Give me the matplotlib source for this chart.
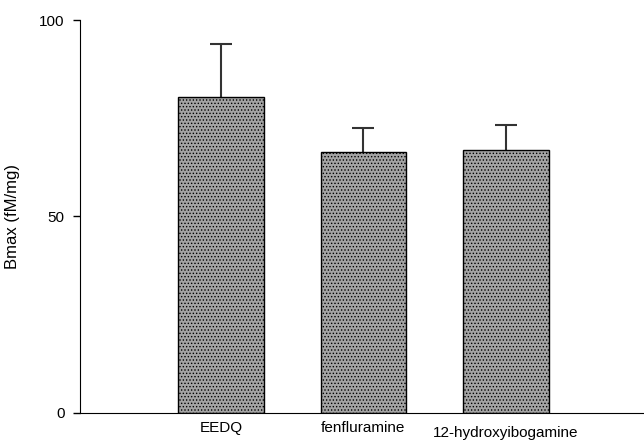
import matplotlib.pyplot as plt
import matplotlib.transforms as mtransforms
import numpy as np

plt.rcParams['font.family'] = ['Liberation Sans', 'DejaVu Sans']
plt.rcParams['hatch.color'] = '#8a8a8a'
plt.rcParams['hatch.linewidth'] = 0.6

# data
treatments = ["EEDQ", "fenfluramine", "12-hydroxyibogamine"]
bmax = [80.6, 66.4, 67.0]
sem = [13.4, 6.2, 6.4]

fig = plt.figure(figsize=(6.44, 4.4), dpi=100)
ax = fig.add_axes([0.1242, 0.0625, 0.8758, 0.891])

x = np.arange(len(treatments))
# error bars drawn under the bars so only the upper half shows
ax.errorbar(x, bmax, yerr=sem, fmt="none",
            ecolor="#333333", elinewidth=1.5, capsize=8, capthick=1.5, zorder=1)
ax.bar(x, bmax, width=0.6, color="#a4a4a4", edgecolor="black", linewidth=1.0,
       hatch=".....", zorder=2)

ax.set_xlim(-0.99, 2.97)
ax.set_ylim(0, 100)
ax.set_yticks([0, 50, 100])
ax.set_xticks(x)
ax.set_xticklabels(treatments, fontsize=11)
ax.tick_params(axis="x", length=0, pad=6)
ax.tick_params(axis="y", length=5, width=1, labelsize=11, pad=6)
# last label sits a little lower in the original
lab = ax.get_xticklabels()[2]
lab.set_transform(lab.get_transform() + mtransforms.ScaledTranslation(0, -0.05, fig.dpi_scale_trans))
ax.set_ylabel("Bmax (fM/mg)", fontsize=12, labelpad=14)

ax.spines["top"].set_visible(False)
ax.spines["right"].set_visible(False)

fig.savefig("out.png", dpi=100)
